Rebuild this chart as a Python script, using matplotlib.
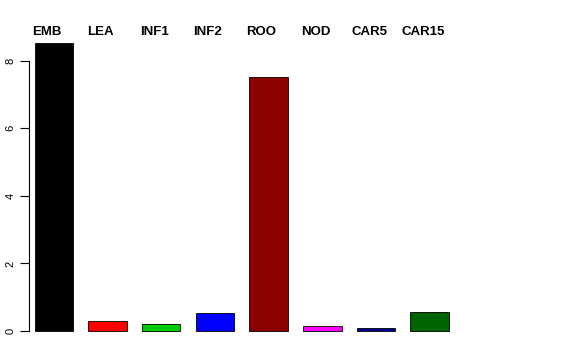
import numpy as np
from matplotlib import pyplot as plt

# tissue labels and values
tissues = ["EMB", "LEA", "INF1", "INF2", "ROO", "NOD", "CAR5", "CAR15"]
values = [8.52, 0.30, 0.21, 0.52, 7.51, 0.16, 0.09, 0.56]
colors = ["#000000", "#FF0000", "#00CD00", "#0000FF", "#8B0000", "#FF00FF", "#00008B", "#006400"]
yticks = [0, 2, 4, 6, 8]

plt.rcParams['font.family'] = ['Liberation Sans', 'DejaVu Sans']

fig = plt.figure(figsize=(5.76, 3.6), dpi=100)
# axes placed in pixel terms (R-like layout)
left_px, right_px = 29.3, 450
bottom_px, top_px = 342.5, 31.5
ax = fig.add_axes([left_px / 576, (360 - bottom_px) / 360,
                   (right_px - left_px) / 576, (bottom_px - top_px) / 360])

x = np.arange(len(tissues))
ax.bar(x, values, width=0.717, color=colors, edgecolor='black', linewidth=0.6)

step = 53.7
ax.set_xlim((left_px - 53.8) / step, (right_px - 53.8) / step)
ax.set_ylim(-0.34, 8.86)

for s in ['top', 'right', 'bottom']:
    ax.spines[s].set_visible(False)
ax.spines['left'].set_bounds(0, 8)
ax.spines['left'].set_linewidth(0.8)
ax.set_xticks([])
ax.set_yticks(yticks)
ax.set_yticklabels([str(t) for t in yticks], rotation=90, va='center', fontsize=8)
ax.tick_params(axis='y', length=6.2, width=0.8, pad=3.5)

for xi, name in zip(x, tissues):
    ax.text(xi - 0.13, 8.85, name, ha='center', va='center',
            fontsize=9.5, fontweight='bold', clip_on=False)

fig.savefig('out.png', dpi=100)
